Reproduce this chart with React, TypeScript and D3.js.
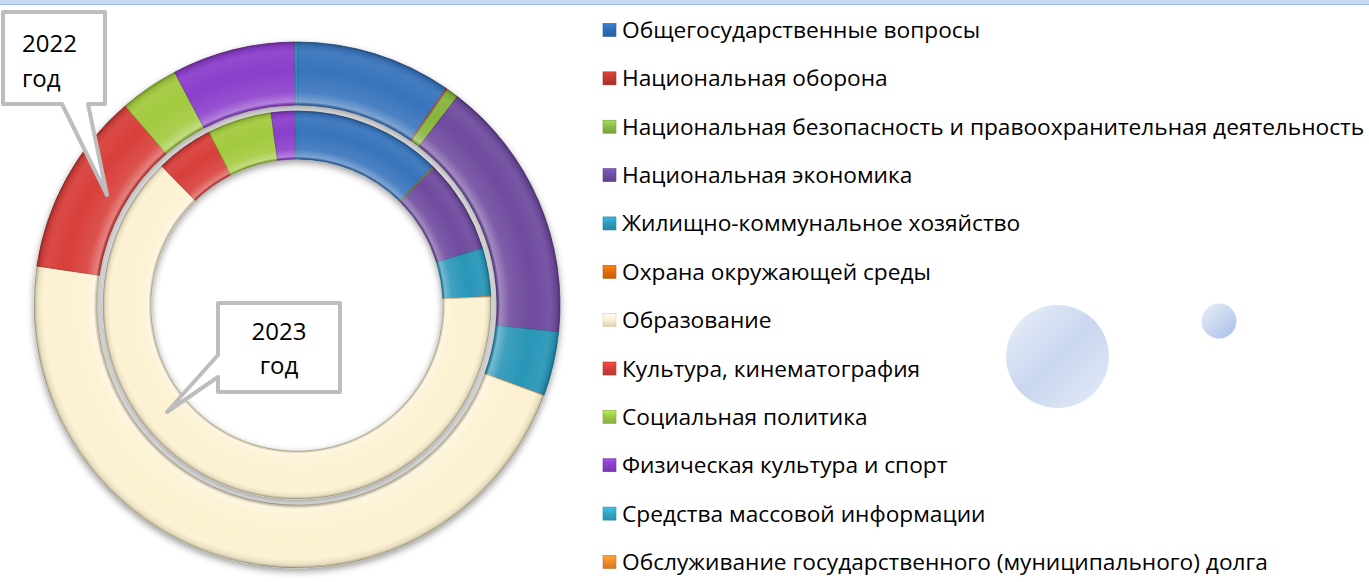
import React from 'react';
import * as d3 from 'd3';

const categories = [
  'Общегосударственные вопросы',
  'Национальная оборона',
  'Национальная безопасность и правоохранительная деятельность',
  'Национальная экономика',
  'Жилищно-коммунальное хозяйство',
  'Охрана окружающей среды',
  'Образование',
  'Культура, кинематография',
  'Социальная политика',
  'Физическая культура и спорт',
  'Средства массовой информации',
  'Обслуживание государственного (муниципального) долга',
];

// share of expenditures, % (outer ring = 2022, inner ring = 2023)
const values2022 = [9.6, 0.1, 0.75, 16.2, 3.95, 0.02, 46.8, 11.3, 3.64, 7.58, 0.12, 0];
const values2023 = [12.36, 0.07, 0.07, 7.78, 4.03, 0.03, 63.4, 4.8, 5.36, 2.03, 0.1, 0];

const sliceColors = [
  '#3874BC', '#C0504D', '#86B53C', '#6F4B9F', '#2996B8', '#F08A2C',
  '#FCF1D1', '#D83F3A', '#A2CA3E', '#8B3ECB', '#22A2BC', '#E87D2A',
];
const markerColors = [
  '#2F6DB5', '#C0392F', '#8DBB4A', '#6E4CA0', '#2E9BBA', '#E46C0A',
  '#FBEFD0', '#D43F3A', '#9BC846', '#8A3FC8', '#31A6C4', '#EE8A2C',
];

const ringLabels = ['2022', '2023'];
const ringWord = 'год';

const W = 1369;
const H = 582;
const cx = 297;
const cy = 305;
const outerRing = { r0: 200, r1: 263 };
const innerRing = { r0: 146, r1: 194 };

const pie = d3.pie<number>().sort(null).value((d) => d);

function Ring({ values, r0, r1, id }: { values: number[]; r0: number; r1: number; id: string }) {
  const arc = d3.arc<d3.PieArcDatum<number>>().innerRadius(r0).outerRadius(r1);
  const arcs = pie(values).filter((a) => a.value > 0);
  const f = r0 / r1;
  const t = 1 - f;
  return (
    <g filter="url(#ringShadow)">
      <defs>
        <radialGradient id={id} gradientUnits="userSpaceOnUse" cx={0} cy={0} r={r1}>
          <stop offset={f} stopColor="#000" stopOpacity={0.22} />
          <stop offset={f + t * 0.05} stopColor="#fff" stopOpacity={0.35} />
          <stop offset={f + t * 0.2} stopColor="#fff" stopOpacity={0.1} />
          <stop offset={f + t * 0.55} stopColor="#fff" stopOpacity={0} />
          <stop offset={f + t * 0.85} stopColor="#fff" stopOpacity={0.06} />
          <stop offset={f + t * 0.95} stopColor="#000" stopOpacity={0.08} />
          <stop offset={1} stopColor="#000" stopOpacity={0.3} />
        </radialGradient>
      </defs>
      {arcs.map((a) => (
        <path
          key={'s' + a.index}
          d={arc(a) || ''}
          fill={sliceColors[a.index]}
          stroke={d3.color(sliceColors[a.index])!.darker(0.7).formatHex()}
          strokeWidth={0.8}
        />
      ))}
      {arcs.map((a) => (
        <path key={'o' + a.index} d={arc(a) || ''} fill={`url(#${id})`} />
      ))}
    </g>
  );
}

export default function App() {
  const legendX = 603;
  const legendY0 = 30;
  const legendStep = 48.36;
  const font = '"Open Sans", "DejaVu Sans", sans-serif';
  return (
    <svg
      width={W}
      height={H}
      style={{ position: 'absolute', left: 0, top: 0, background: '#fff' }}
      fontFamily={font}
    >
      <defs>
        <filter id="ringShadow" x="-20%" y="-20%" width="140%" height="140%">
          <feDropShadow dx="0" dy="3" stdDeviation="3.5" floodColor="#000" floodOpacity="0.4" />
        </filter>
        <linearGradient id="bigBubble" x1="0" y1="0" x2="1" y2="1">
          <stop offset="0" stopColor="#EEF2FA" />
          <stop offset="0.5" stopColor="#C8D6EF" />
          <stop offset="1" stopColor="#E6ECF7" />
        </linearGradient>
        <linearGradient id="smallBubble" x1="0" y1="0" x2="1" y2="1">
          <stop offset="0" stopColor="#E9EEF8" />
          <stop offset="1" stopColor="#A8BFE8" />
        </linearGradient>
        {markerColors.map((c, i) => (
          <linearGradient key={i} id={'mk' + i} x1="0" y1="0" x2="0" y2="1">
            <stop offset="0" stopColor={d3.color(c)!.brighter(0.5).formatHex()} />
            <stop offset="0.5" stopColor={c} />
            <stop offset="1" stopColor={d3.color(c)!.darker(0.4).formatHex()} />
          </linearGradient>
        ))}
      </defs>

      {/* top band */}
      <rect x={0} y={0} width={W} height={4} fill="#C8DAF1" />
      <line x1={0} x2={W} y1={4.5} y2={4.5} stroke="#A3BCE0" strokeWidth={1} />

      {/* rings */}
      <g transform={`translate(${cx},${cy})`}>
        <Ring values={values2022} r0={outerRing.r0} r1={outerRing.r1} id="gOuter" />
        <Ring values={values2023} r0={innerRing.r0} r1={innerRing.r1} id="gInner" />
      </g>

      {/* callout 2022 */}
      <path
        d="M3,12 H105 V104 H88 L107,195 L62,104 H3 Z"
        fill="#fff"
        stroke="#BDBDBD"
        strokeWidth={4}
        strokeLinejoin="round"
      />
      <text x={22} y={52} fontSize={24} fill="#000">{ringLabels[0]}</text>
      <text x={22} y={87} fontSize={24} fill="#000">{ringWord}</text>

      {/* callout 2023 */}
      <path
        d="M218,303 H340 V392 H218 V377 L167,412 L218,355 Z"
        fill="#fff"
        stroke="#BDBDBD"
        strokeWidth={4}
        strokeLinejoin="round"
      />
      <text x={279} y={340} fontSize={24} textAnchor="middle" fill="#000">{ringLabels[1]}</text>
      <text x={279} y={374} fontSize={24} textAnchor="middle" fill="#000">{ringWord}</text>

      {/* legend */}
      {categories.map((c, i) => {
        const y = legendY0 + i * legendStep;
        return (
          <g key={c}>
            <rect
              x={legendX}
              y={y - 6.5}
              width={13}
              height={13}
              fill={`url(#mk${i})`}
              stroke={d3.color(markerColors[i])!.darker(0.5).formatHex()}
              strokeWidth={0.6}
            />
            <text x={legendX + 19} y={y + 8} fontSize={22.7} fill="#000">
              {c}
            </text>
          </g>
        );
      })}

      {/* decorative bubbles */}
      <circle cx={1057.5} cy={356.5} r={51.5} fill="url(#bigBubble)" />
      <circle cx={1219} cy={321} r={17.5} fill="url(#smallBubble)" />
    </svg>
  );
}
